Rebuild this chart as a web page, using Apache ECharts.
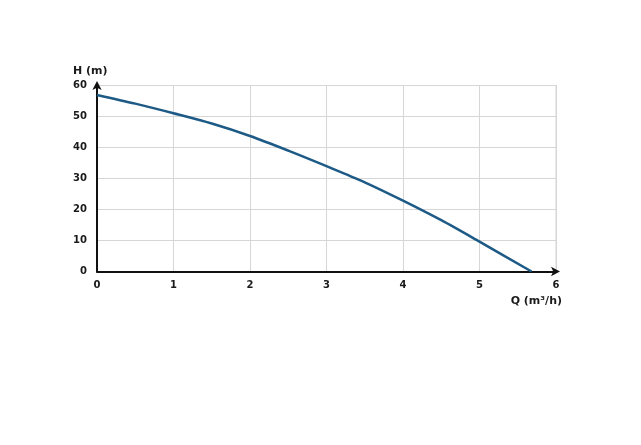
<!DOCTYPE html>
<html><head><meta charset="utf-8">
<script src="https://cdn.jsdelivr.net/npm/echarts@6/dist/echarts.min.js"></script>
<style>html,body{margin:0;padding:0;background:#fff}#c{width:641px;height:445px}</style>
</head><body><div id="c"></div>
<script>
const flow = [0, 0.5, 1, 1.5, 2, 2.5, 3, 3.5, 4, 4.5, 5, 5.68];
const head = [56.8, 54.0, 50.9, 47.6, 43.6, 38.9, 33.9, 28.7, 22.8, 16.5, 9.6, 0];
const xTicks = [0, 1, 2, 3, 4, 5, 6];
const yTicks = [0, 10, 20, 30, 40, 50, 60];
const xName = 'Q (m³/h)';
const yName = 'H (m)';

const font = '"DejaVu Sans", sans-serif';
const chart = echarts.init(document.getElementById('c'));
chart.setOption({
  animation: false,
  grid: {left: 97, right: 85, top: 85, bottom: 173.5, containLabel: false},
  xAxis: {
    type: 'value', min: xTicks[0], max: xTicks[xTicks.length-1], interval: 1,
    axisLine: {lineStyle: {color: '#111', width: 2}, symbol: ['none', 'arrow'], symbolSize: [7, 9], symbolOffset: [0, 4]},
    axisTick: {show: false},
    splitLine: {show: true, lineStyle: {color: '#d6d6d6', width: 1}},
    axisLabel: {color: '#1a1a1a', fontFamily: font, fontWeight: 'bold', fontSize: 10, margin: 9, showMaxLabel: true}
  },
  yAxis: {
    type: 'value', min: yTicks[0], max: yTicks[yTicks.length-1], interval: 10,
    axisLine: {show: true, lineStyle: {color: '#111', width: 2}, symbol: ['none', 'arrow'], symbolSize: [7, 9], symbolOffset: [0, 4]},
    axisTick: {show: false},
    splitLine: {show: true, lineStyle: {color: '#d6d6d6', width: 1}},
    axisLabel: {color: '#1a1a1a', fontFamily: font, fontWeight: 'bold', fontSize: 10, margin: 10}
  },
  graphic: [
    {type: 'text', left: 73, top: 66, style: {text: yName, fill: '#1a1a1a', font: 'bold 11px ' + font}},
    {type: 'text', right: 79, top: 296, style: {text: xName, fill: '#1a1a1a', font: 'bold 11px ' + font}},
    {type: 'line', shape: {x1: 556, y1: 85, x2: 556, y2: 271}, style: {stroke: '#d6d6d6', lineWidth: 1}}
  ],
  series: [{
    type: 'line', data: flow.map((q, i) => [q, head[i]]),
    smooth: 0.3, symbol: 'none',
    lineStyle: {color: '#1d5a86', width: 2.5}
  }]
});
</script></body></html>
